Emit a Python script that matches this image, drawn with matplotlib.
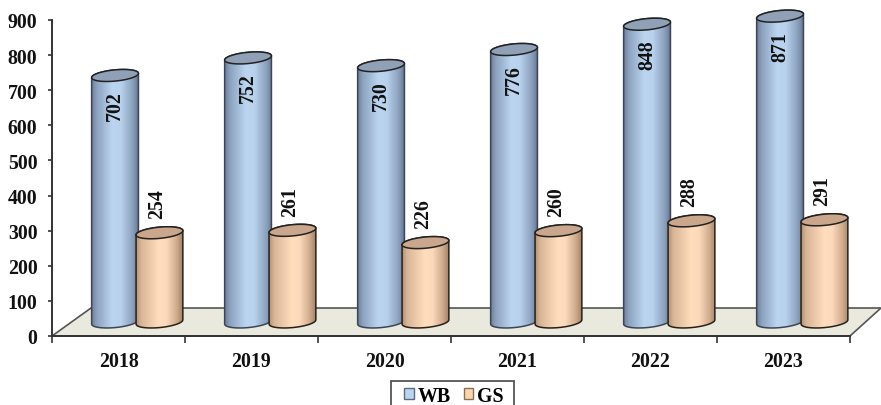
import numpy as np
import matplotlib
matplotlib.use("Agg")
import matplotlib.pyplot as plt
from matplotlib.colors import LinearSegmentedColormap
from matplotlib.patches import Patch, Polygon, PathPatch, Rectangle
from matplotlib.path import Path

plt.rcParams['font.family'] = ['Liberation Serif', 'DejaVu Serif']
plt.rcParams['font.weight'] = 'bold'

years = ['2018', '2019', '2020', '2021', '2022', '2023']
wb_values = [702, 752, 730, 776, 848, 871]
gs_values = [254, 261, 226, 260, 288, 291]
y_ticks = [0, 100, 200, 300, 400, 500, 600, 700, 800, 900]

W, H = 881, 406
fig = plt.figure(figsize=(W / 100, H / 100), dpi=100)
L, R, T, B = 52, 850, 21, 337
ax = fig.add_axes([L / W, 1 - B / H, (R - L) / W, (B - T) / H])
ax.set_xlim(0, 6)
ax.set_ylim(0, 900)

# Scale factors between screen pixels and data units
SX = 6 / (R - L)
SY = 900 / (B - T)
BASE = 40          # cylinders stand on the floor, this far above the front edge
RX, RY = 23.5, 5.6  # ellipse semi-axes in pixels
TILT = np.radians(5.5)
FONT = 14.3

wb_cmap = LinearSegmentedColormap.from_list('wb', [
    (0, '#66758D'), (0.14, '#8DA3C0'), (0.45, '#BBD5F1'),
    (0.62, '#B8D1ED'), (0.86, '#8A9FBB'), (1, '#5F6E86')])
gs_cmap = LinearSegmentedColormap.from_list('gs', [
    (0, '#A08066'), (0.14, '#D8B596'), (0.5, '#FFDDBD'),
    (0.65, '#FBD9BA'), (0.86, '#CFAB8C'), (1, '#987A60')])
gradient = np.linspace(0, 1, 256)[None, :]


def arc(cx, cy, t):
    """Points on a tilted ellipse centred at (cx, cy), in data units."""
    ex = RX * np.cos(t)
    ey = RY * np.sin(t)
    return np.column_stack([
        cx + (ex * np.cos(TILT) - ey * np.sin(TILT)) * SX,
        cy + (ex * np.sin(TILT) + ey * np.cos(TILT)) * SY,
    ])


def cylinder(cx, value, cmap, top_color, edge_color, z):
    top = BASE + value
    lower = arc(cx, BASE, np.linspace(np.pi, 2 * np.pi, 50))
    upper = arc(cx, top, np.linspace(0, np.pi, 50))
    body = Path(np.vstack([lower, upper, lower[:1]]), closed=False)
    im = ax.imshow(gradient, cmap=cmap, aspect='auto', zorder=z,
                   extent=[cx - 25 * SX, cx + 25 * SX, 0, top + 30],
                   interpolation='bilinear')
    im.set_clip_box(fig.bbox)
    im.set_clip_path(body, ax.transData)
    ax.add_patch(PathPatch(body, fc='none', ec=edge_color, lw=1.1, zorder=z,
                           clip_on=False))
    cap = arc(cx, top, np.linspace(0, 2 * np.pi, 100))
    ax.add_patch(Polygon(cap, closed=True, fc=top_color, ec='#222222', lw=1.1,
                         zorder=z, clip_on=False))


# Floor of the plot area
floor = [(L, B), (R, B), (881, 309), (91, 309)]
floor_data = [((x - L) * SX, (B - y) * SY) for x, y in floor]
ax.add_patch(Polygon(floor_data, closed=True, fc='#E9E9DD', ec='#555555',
                     lw=1.2, zorder=1, clip_on=False))

WB_POS = 0.474
GS_POS = 0.808
for i, year in enumerate(years):
    cylinder(i + WB_POS, wb_values[i], wb_cmap, '#90A1B7', '#3C4556', 3 + 2 * i)
    cylinder(i + GS_POS, gs_values[i], gs_cmap, '#C9A68C', '#2A2018', 4 + 2 * i)
    ax.text(i + WB_POS, BASE + wb_values[i] - 29.5 * SY, str(wb_values[i]),
            rotation=90, ha='center', va='center', fontsize=FONT, color='#111111',
            zorder=30, fontweight='bold')
    ax.text(i + GS_POS - 2 * SX, BASE + gs_values[i] + 29.5 * SY, str(gs_values[i]),
            rotation=90, ha='center', va='center', fontsize=FONT, color='#111111',
            zorder=30, fontweight='bold')

# Axes
for side in ('top', 'right'):
    ax.spines[side].set_visible(False)
for side in ('left', 'bottom'):
    ax.spines[side].set_color('#333333')
    ax.spines[side].set_linewidth(1.4)
    ax.spines[side].set_zorder(2)
ax.set_yticks(y_ticks)
ax.set_xticks(range(7))
ax.set_xticklabels([])
ax.set_xticks(np.arange(6) + 0.5, labels=years, minor=True)
ax.tick_params(axis='y', length=3, width=1.2, color='#333333', labelsize=FONT,
               pad=7.5, labelcolor='#111111')
ax.tick_params(axis='x', which='major', length=5, width=1.2, color='#333333')
ax.tick_params(axis='x', which='minor', length=0, labelsize=FONT, pad=11,
               labelcolor='#111111')

# Legend frame runs off the lower edge of the canvas
fig.add_artist(Rectangle((391 / W, 1 - 412 / H), 123 / W, 30 / H, fc='white',
                         ec='#555555', lw=1.3, transform=fig.transFigure,
                         zorder=-1))
handles = [Patch(fc='#BDD4F0', ec='#5A6A80', label='WB'),
           Patch(fc='#FBD5B0', ec='#8A7058', label='GS')]
leg = ax.legend(handles=handles, ncol=2, loc='center',
                bbox_to_anchor=(454 / W, 1 - 397 / H),
                bbox_transform=fig.transFigure, frameon=False, fontsize=FONT,
                handlelength=0.48, handleheight=0.48, handletextpad=0.2,
                columnspacing=0.65, borderpad=0, borderaxespad=0)
leg.set_zorder(40)

fig.savefig('out.png', dpi=100)
